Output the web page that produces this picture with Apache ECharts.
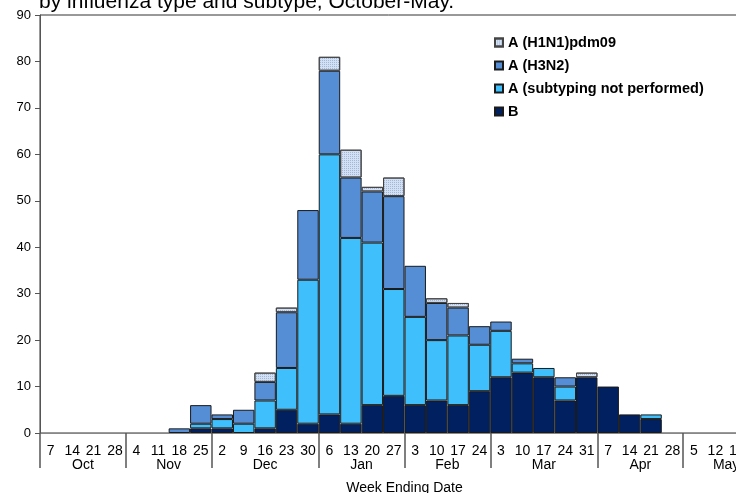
<!DOCTYPE html>
<html><head><meta charset="utf-8">
<script src="https://cdn.jsdelivr.net/npm/echarts@6/dist/echarts.min.js"></script>
<style>html,body{margin:0;padding:0;background:#fff}#c{width:736px;height:493px}</style>
</head><body><div id="c"></div>
<script>
const weekLabels = ['7','14','21','28','4','11','18','25','2','9','16','23','30','6','13','20','27','3','10','17','24','3','10','17','24','31','7','14','21','28','5','12','19','26'];
const months = ['Oct','Nov','Dec','Jan','Feb','Mar','Apr','May'];
const monthWeeks = [4,4,5,4,4,5,4,4];
const seriesB =      [0,0,0,0,0,0,0,1,1,0,1,5,2,4,2,6,8,6,7,6,9,12,13,12,7,12,10,4,3,0,0,0,0,0];
const seriesAnot =   [0,0,0,0,0,0,0,1,2,2,6,9,31,56,40,35,23,19,13,15,10,10,2,2,3,0,0,0,1,0,0,0,0,0];
const seriesH3N2 =   [0,0,0,0,0,0,1,4,1,3,4,12,15,18,13,11,20,11,8,6,4,2,1,0,2,0,0,0,0,0,0,0,0,0];
const seriesH1N1 =   [0,0,0,0,0,0,0,0,0,0,2,1,0,3,6,1,4,0,1,1,0,0,0,0,0,1,0,0,0,0,0,0,0,0];
const yTicks = [0,10,20,30,40,50,60,70,80,90];

// half-week boundary positions for the month axis
const nHalf = weekLabels.length * 2;
const halfCats = [];
for (let i = 0; i <= nHalf; i++) halfCats.push(String(i));
const monthCenter = {}, monthEdge = {0: true};
let acc = 0;
monthWeeks.forEach((w, i) => { monthCenter[acc * 2 + w] = months[i]; acc += w; monthEdge[acc * 2] = true; });

const font = 'Liberation Sans, Arial, sans-serif';
const nz = a => a.map(v => v === 0 ? null : v);
const barBase = { type: 'bar', stack: 'all', barCategoryGap: 0, barGap: '-100%', xAxisIndex: 0 };
const chart = echarts.init(document.getElementById('c'), null, { renderer: 'canvas' });
chart.setOption({
  animation: false,
  title: { text: 'by influenza type and subtype, October-May.', left: 39, top: -8, padding: 0,
    textStyle: { fontFamily: font, fontSize: 21, fontWeight: 'normal', color: '#000' } },
  legend: {
    orient: 'vertical', left: 489, top: 30, itemWidth: 8, itemHeight: 8, itemGap: 8, icon: 'rect',
    data: ['A (H1N1)pdm09', 'A (H3N2)', 'A (subtyping not performed)', 'B'],
    textStyle: { fontFamily: font, fontSize: 14.5, fontWeight: 'bold', color: '#000' }
  },
  grid: { left: 40, top: 15, bottom: 60, right: -33, outerBoundsMode: 'none', containLabel: false,
    show: true, borderColor: '#333', borderWidth: 1 },
  xAxis: [
    { type: 'category', data: weekLabels, position: 'bottom',
      axisLine: { lineStyle: { color: '#888', width: 1 } }, axisTick: { show: false },
      axisLabel: { interval: 0, margin: 11, fontFamily: font, fontSize: 14, color: '#000' },
      name: 'Week Ending Date', nameLocation: 'middle', nameGap: 48,
      nameTextStyle: { fontFamily: font, fontSize: 14, color: '#000' } },
    { type: 'category', data: halfCats, boundaryGap: false, position: 'bottom',
      axisLine: { show: false },
      axisTick: { show: true, length: 35, interval: (i) => !!monthEdge[i], lineStyle: { color: '#555', width: 1.5 } },
      axisLabel: { interval: (i) => monthCenter[i] !== undefined, margin: 25, formatter: (v, i) => monthCenter[i] || '',
        fontFamily: font, fontSize: 14, color: '#000' } }
  ],
  yAxis: { type: 'value', min: yTicks[0], max: yTicks[yTicks.length - 1], interval: 10,
    axisLine: { show: true, lineStyle: { color: '#555' } },
    axisTick: { show: true, length: 5, lineStyle: { color: '#555' } },
    splitLine: { show: false },
    axisLabel: { margin: 9, fontFamily: font, fontSize: 13, color: '#000' } },
  series: [
    Object.assign({}, barBase, { name: 'B', data: nz(seriesB),
      itemStyle: { color: '#002060', borderColor: '#1a1a1a', borderWidth: 1 } }),
    Object.assign({}, barBase, { name: 'A (subtyping not performed)', data: nz(seriesAnot),
      itemStyle: { color: '#3fc0fc', borderColor: '#1a1a1a', borderWidth: 1 } }),
    Object.assign({}, barBase, { name: 'A (H3N2)', data: nz(seriesH3N2),
      itemStyle: { color: '#558ed5', borderColor: '#1a1a1a', borderWidth: 1 } }),
    Object.assign({}, barBase, { name: 'A (H1N1)pdm09', data: nz(seriesH1N1),
      itemStyle: { color: '#d3e0f2', borderColor: '#444', borderWidth: 1,
        decal: { symbol: 'rect', symbolSize: 1, dashArrayX: [1, 1], dashArrayY: [1, 1], color: 'rgba(120,150,200,0.55)', rotation: 0 } } })
  ]
});
</script></body></html>
